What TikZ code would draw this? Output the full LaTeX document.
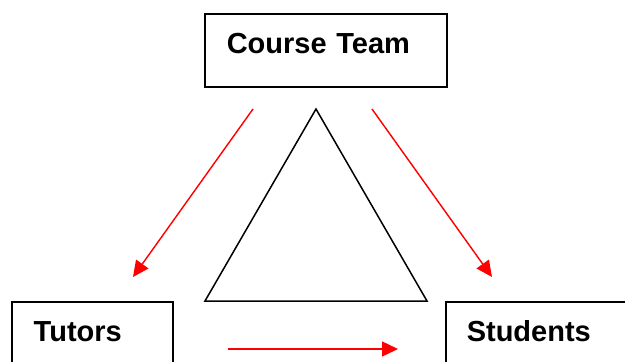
\documentclass[tikz,border=0pt]{standalone}
\usepackage{fontspec}
\setmainfont{Liberation Sans}
\usetikzlibrary{arrows.meta}

\begin{document}
\begin{tikzpicture}[x=1pt,y=-1pt,line width=1.5pt,
  box/.style={draw,anchor=north west,inner xsep=22pt,inner ysep=0pt,align=left,
    text height=40pt,font=\fontsize{29}{34}\selectfont\bfseries},
  flow/.style={red,line width=1.4pt,-{Triangle[length=16pt,width=15pt]}}]
  \clip (0,0) rectangle (625,362);

  \node[box,text width=198pt,text depth=33pt] (T) at (204,13)  {Course Team};
  \node[box,text width=117pt,text depth=50pt] (U) at (11,301)  {Tutors};
  \node[box,inner xsep=21pt,text width=220pt,text depth=50pt] (S) at (445,301) {Students};

  % triangle
  \coordinate (top) at (316,109);
  \coordinate (bl)  at (205,301);
  \coordinate (br)  at (427,301);
  \draw[line join=miter] (top) -- (bl) -- (br) -- cycle;

  \coordinate (a1) at (253,109);
  \coordinate (a2) at (133,277);
  \coordinate (b1) at (372,109);
  \coordinate (b2) at (492,277);
  \coordinate (c1) at (228,349);
  \coordinate (c2) at (398,349);

  \draw[flow] (a1) -- (a2);
  \draw[flow] (b1) -- (b2);
  \draw[flow] (c1) -- (c2);
\end{tikzpicture}
\end{document}
